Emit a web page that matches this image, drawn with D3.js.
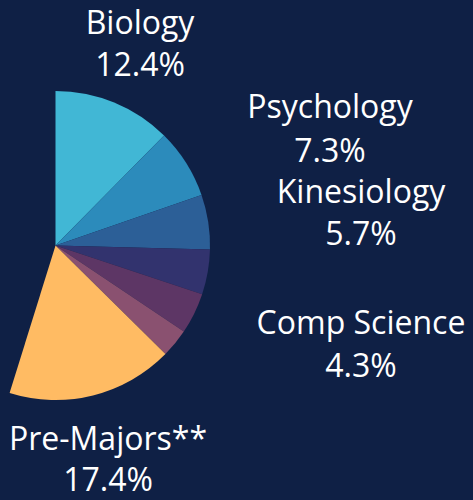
<!DOCTYPE html>
<html><head><meta charset="utf-8">
<script src="https://cdn.jsdelivr.net/npm/d3@7"></script>
<style>html,body{margin:0;padding:0;background:#0f2045;}svg{display:block;}</style>
</head><body>
<script>
const categories = ["Biology", "Psychology", "Kinesiology", "Other A", "Comp Science", "Other B", "Pre-Majors**"];
const values = [12.4, 7.3, 5.7, 4.7, 4.3, 3.0, 17.4];
const colors = ["#41b7d5", "#2c8bbb", "#2c5f97", "#32336e", "#5d3665", "#8a5170", "#ffbb63"];
const labelled = [true, true, true, false, true, false, true];

const W = 473, H = 500;
const svg = d3.select("body").append("svg").attr("width", W).attr("height", H);
svg.append("rect").attr("width", W).attr("height", H).attr("fill", "#0f2045");

const cx = 55.5, cy = 245.5, R = 154.5;
const total = d3.sum(values);
const pie = d3.pie().sort(null).value(d => d).startAngle(0).endAngle(2 * Math.PI * total / 100);
const arcs = pie(values);
const arc = d3.arc().innerRadius(0).outerRadius(R);

const g = svg.append("g").attr("transform", `translate(${cx},${cy})`);
g.selectAll("path").data(arcs).enter().append("path")
  .attr("d", arc).attr("fill", (d, i) => colors[i]);

// label positions (label layout, not data)
const labelPos = {
  "Biology": [140, 34, 76],
  "Psychology": [330, 118, 162],
  "Kinesiology": [361, 203, 245],
  "Comp Science": [361, 334, 377],
  "Pre-Majors**": [108, 450, 491]
};
const font = "'Open Sans', 'Noto Sans', sans-serif";
categories.forEach((c, i) => {
  if (!labelled[i]) return;
  const p = labelPos[c];
  const t = svg.append("g").attr("font-family", font).attr("font-size", 32).attr("fill", "#ffffff").attr("text-anchor", "middle");
  t.append("text").attr("x", p[0]).attr("y", p[1]).text(c);
  t.append("text").attr("x", p[0]).attr("y", p[2]).text(values[i].toFixed(1) + "%");
});
</script>
</body></html>
